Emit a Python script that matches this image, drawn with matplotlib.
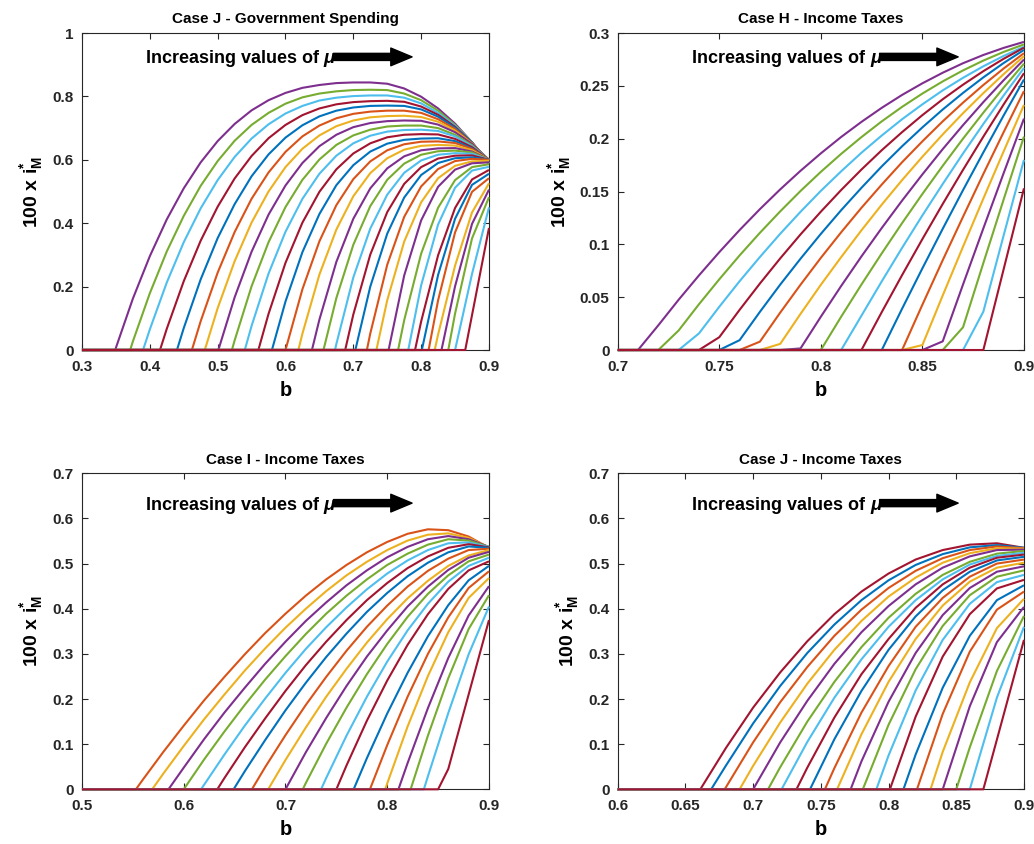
import matplotlib.pyplot as plt
import numpy as np

plt.rcParams['font.family'] = 'Liberation Sans'
plt.rcParams['font.weight'] = 'bold'
plt.rcParams['mathtext.fontset'] = 'custom'
plt.rcParams['mathtext.rm'] = 'Liberation Sans:bold'
plt.rcParams['mathtext.bf'] = 'Liberation Sans:bold'
plt.rcParams['mathtext.it'] = 'Liberation Sans:bold:italic'

# MATLAB default line colour order
COLORS = ['#0072BD', '#D95319', '#EDB120', '#7E2F8E', '#77AC30', '#4DBEEE', '#A2142F']

# ---------------- Case J - Government Spending ----------------
p1_grid = np.round(np.arange(0.300, 0.9001, 0.025), 3)
p1_onset = [0.349, 0.371, 0.390, 0.415, 0.440, 0.462, 0.481, 0.501, 0.521, 0.540,
            0.560, 0.580, 0.600, 0.619, 0.639, 0.656, 0.673, 0.688, 0.703, 0.720,
            0.734, 0.752, 0.766, 0.781, 0.791, 0.801, 0.811, 0.820, 0.830, 0.840,
            0.850, 0.865]
p1_vals = [
    [.007, .162, .296, .412, .510, .592, .659, .713, .756, .788, .811, .827, .836, .842, .844, .844, .840, .825, .799, .762, .714, .655, .585],
    [.027, .179, .311, .423, .518, .596, .660, .710, .748, .777, .797, .809, .816, .820, .821, .820, .809, .788, .755, .710, .655, .588],
    [.065, .213, .340, .447, .536, .609, .667, .712, .746, .770, .787, .796, .801, .803, .803, .796, .778, .748, .707, .654, .590],
    [.067, .217, .345, .452, .541, .612, .668, .710, .741, .762, .775, .782, .785, .786, .783, .768, .742, .704, .654, .592],
    [.069, .223, .353, .460, .548, .617, .670, .709, .737, .755, .765, .770, .771, .770, .759, .736, .701, .654, .594],
    [.091, .244, .372, .477, .560, .625, .674, .708, .731, .745, .752, .755, .755, .748, .728, .697, .652, .596],
    [.132, .280, .402, .500, .577, .635, .677, .706, .724, .734, .738, .739, .735, .720, .692, .651, .598],
    [.166, .310, .427, .519, .590, .643, .679, .703, .716, .722, .724, .723, .711, .687, .650, .600],
    [.030, .201, .340, .451, .537, .601, .647, .677, .695, .705, .708, .708, .700, .679, .646, .600],
    [.076, .241, .373, .477, .556, .613, .652, .676, .689, .694, .695, .691, .674, .643, .600],
    [.114, .275, .402, .499, .570, .620, .652, .671, .679, .681, .680, .666, .640, .600],
    [.153, .309, .429, .520, .583, .626, .651, .663, .667, .668, .659, .636, .600],
    [.192, .343, .457, .539, .595, .630, .649, .657, .658, .653, .634, .600],
    [.052, .238, .380, .485, .558, .605, .632, .644, .647, .645, .630, .600],
    [.096, .278, .414, .510, .573, .611, .630, .636, .637, .626, .600],
    [.164, .332, .454, .537, .588, .616, .627, .629, .623, .600],
    [.019, .229, .383, .490, .559, .598, .616, .621, .619, .600],
    [.112, .301, .435, .524, .577, .604, .613, .614, .600],
    [.200, .367, .481, .552, .590, .605, .608, .600],
    [.052, .269, .420, .516, .571, .596, .603, .600],
    [.157, .342, .466, .542, .581, .595, .597],
    [.235, .409, .515, .569, .589, .592],
    [.094, .304, .449, .536, .577, .586],
    [.204, .396, .512, .566, .578],
    [.090, .299, .448, .538, .568],
    [.237, .414, .521, .556],
    [.157, .371, .499, .542],
    [.049, .266, .434, .526],
    [.201, .398, .506],
    [.115, .352, .482],
    [.240, .450],
    [.110, .385],
]

# ---------------- Case H - Income Taxes ----------------
p2_grid = np.round(np.arange(0.70, 0.9001, 0.01), 2)
p2_vals = [
    [.0234, .0476, .0706, .0926, .1135, .1333, .1520, .1696, .1861, .2016, .2159, .2292, .2414, .2524, .2624, .2714, .2792, .2859, .2916],
    [.0185, .0433, .0669, .0895, .1109, .1312, .1505, .1686, .1856, .2015, .2164, .2301, .2427, .2542, .2646, .2739, .2821, .2892],
    [.0157, .0409, .0651, .0880, .1100, .1308, .1506, .1691, .1867, .2030, .2184, .2325, .2457, .2576, .2685, .2783, .2870],
    [.0121, .0380, .0629, .0867, .1094, .1309, .1514, .1708, .1891, .2062, .2223, .2373, .2511, .2639, .2756, .2861],
    [.0093, .0361, .0619, .0864, .1099, .1323, .1535, .1738, .1928, .2107, .2276, .2433, .2580, .2716, .2840],
    [.0079, .0354, .0618, .0872, .1114, .1346, .1566, .1777, .1975, .2164, .2341, .2508, .2664, .2809],
    [.0058, .0342, .0617, .0879, .1133, .1376, .1608, .1829, .2040, .2241, .2431, .2611, .2781],
    [.0015, .0315, .0606, .0886, .1155, .1414, .1662, .1901, .2128, .2346, .2553, .2749],
    [.0315, .0620, .0915, .1201, .1477, .1743, .2000, .2246, .2483, .2710],
    [.0325, .0650, .0967, .1274, .1571, .1860, .2139, .2409, .2669],
    [.0359, .0709, .1050, .1382, .1705, .2019, .2324, .2620],
    [.0391, .0773, .1147, .1513, .1870, .2220, .2560],
    [.0429, .0850, .1261, .1666, .2062, .2450],
    [.0047, .0516, .0978, .1433, .1880, .2320],
    [.0082, .0620, .1151, .1674, .2190],
    [.0215, .0823, .1425, .2020],
    [.0363, .1085, .1800],
    [.0765, .1530],
]

# ---------------- Case I - Income Taxes ----------------
p3_grid = np.round(np.arange(0.50, 0.9001, 0.02), 2)
p3_onset = [0.553, 0.569, 0.585, 0.600, 0.617, 0.633, 0.649, 0.667, 0.683, 0.700,
            0.717, 0.735, 0.750, 0.767, 0.783, 0.798, 0.811, 0.823, 0.836, 0.850]
p3_vals = [
    [.022, .083, .141, .197, .249, .299, .346, .389, .429, .465, .497, .525, .548, .566, .576, .574, .560, .535],
    [.035, .096, .155, .210, .263, .312, .358, .400, .439, .474, .504, .530, .551, .564, .567, .557, .536],
    [.048, .111, .170, .225, .278, .327, .373, .414, .452, .485, .514, .537, .554, .561, .554, .537],
    [.066, .128, .187, .243, .295, .344, .389, .429, .465, .497, .522, .542, .554, .551, .537],
    [.010, .077, .141, .201, .258, .311, .359, .403, .443, .478, .507, .530, .545, .547, .537],
    [.025, .093, .157, .218, .275, .327, .375, .419, .457, .490, .516, .535, .543, .536],
    [.040, .109, .175, .236, .293, .345, .393, .435, .472, .502, .525, .538, .535],
    [.049, .120, .187, .249, .307, .360, .407, .449, .484, .511, .530, .533],
    [.065, .137, .205, .267, .325, .377, .423, .462, .495, .518, .530],
    [.082, .158, .229, .294, .352, .405, .449, .486, .513, .526],
    [.014, .101, .181, .255, .322, .382, .433, .474, .505, .520],
    [.025, .119, .205, .283, .352, .411, .460, .495, .513],
    [.053, .152, .241, .320, .388, .444, .485, .505],
    [.069, .168, .258, .339, .408, .463, .495],
    [.098, .205, .300, .381, .446, .483],
    [.013, .139, .251, .348, .424, .468],
    [.058, .180, .291, .385, .450],
    [.119, .246, .355, .430],
    [.029, .169, .299, .405],
    [.045, .210, .375],
]

# ---------------- Case J - Income Taxes ----------------
p4_grid = np.round(np.arange(0.60, 0.9001, 0.02), 2)
p4_onset = [0.661, 0.669, 0.679, 0.690, 0.700, 0.711, 0.721, 0.732, 0.742, 0.753, 0.762,
            0.772, 0.781, 0.791, 0.801, 0.811, 0.821, 0.831, 0.840, 0.850, 0.860, 0.870]
p4_vals = [
    [.092, .181, .259, .328, .388, .438, .478, .509, .530, .542, .545, .535],
    [.053, .146, .229, .302, .365, .419, .463, .497, .521, .536, .541, .535],
    [.005, .104, .193, .271, .340, .398, .446, .484, .512, .530, .538, .534],
    [.052, .148, .234, .309, .373, .427, .469, .502, .523, .534, .533],
    [.104, .196, .278, .348, .406, .454, .491, .516, .530, .531],
    [.049, .150, .238, .315, .380, .433, .475, .504, .522, .528],
    [.105, .203, .288, .360, .419, .465, .498, .517, .524],
    [.048, .159, .255, .333, .402, .454, .491, .513, .520],
    [.111, .218, .309, .383, .441, .482, .507, .515],
    [.047, .170, .273, .360, .424, .471, .500, .509],
    [.122, .238, .333, .407, .460, .491, .502],
    [.062, .194, .302, .386, .446, .482, .494],
    [.143, .266, .362, .430, .471, .485],
    [.075, .219, .331, .411, .459, .475],
    [.161, .294, .388, .445, .464],
    [.077, .225, .340, .419, .452],
    [.167, .305, .398, .438],
    [.083, .237, .357, .422],
    [.184, .326, .404],
    [.093, .262, .384],
    [.203, .360],
    [.110, .331],
]


def draw_panel(ax, grid, onsets, vals, first_color, xlim, ylim, xticks, yticks,
               title, note):
    for k, v in enumerate(vals):
        tail = list(grid[-len(v):])
        if onsets is None:
            start = grid[-len(v) - 1]
        else:
            start = onsets[k]
        xs = [xlim[0], start] + tail
        ys = [0.0, 0.0] + list(v)
        ax.plot(xs, ys, color=COLORS[(first_color + k) % 7], lw=1.5,
                solid_capstyle='butt', solid_joinstyle='round',
                clip_on=False, zorder=3)
    ax.set_xlim(xlim)
    ax.set_ylim(ylim)
    ax.set_xticks(xticks)
    ax.set_yticks(yticks)
    ax.set_xticklabels(['%g' % t for t in xticks])
    ax.set_yticklabels(['%g' % t for t in yticks])
    ax.tick_params(direction='in', top=True, right=True, length=4, width=0.8,
                   labelsize=11, colors='#262626')
    ax.tick_params(axis='x', pad=7)
    ax.tick_params(axis='y', pad=6)
    for sp in ax.spines.values():
        sp.set_color('#262626')
        sp.set_linewidth(0.8)
    ax.set_title(title, fontsize=11, fontweight='bold', pad=7)
    ax.set_xlabel('b', fontsize=14.5, fontweight='bold', labelpad=5)
    ax.set_ylabel(r'100 x $\mathrm{i}^{\mathrm{*}}_{\mathrm{M}}$', fontsize=14,
                  fontweight='bold', labelpad=5)

    # "Increasing values of mu" note with arrow
    t1 = ax.text(note[0], note[1], 'Increasing values of ', transform=ax.transAxes,
                 fontsize=13, fontweight='bold', va='baseline', ha='left')
    mu = ax.annotate('\u03bc', xy=(1.0, 0.0), xycoords=t1, fontsize=13.5,
                     fontweight='bold', fontstyle='italic', va='bottom', ha='left')
    ax.annotate('', xy=(note[2], 0.62), xycoords=('axes fraction', mu),
                xytext=(0.85, 0.62), textcoords=mu,
                arrowprops=dict(arrowstyle='simple,head_length=0.9,head_width=0.75,tail_width=0.3',
                                color='black', mutation_scale=17, shrinkA=0, shrinkB=0))


fig = plt.figure(figsize=(10.34, 8.44), dpi=100)
ax1 = fig.add_axes([0.0793, 0.5853, 0.3936, 0.3756])
ax2 = fig.add_axes([0.5974, 0.5853, 0.3929, 0.3756])
ax3 = fig.add_axes([0.0793, 0.0648, 0.3936, 0.3744])
ax4 = fig.add_axes([0.5974, 0.0648, 0.3929, 0.3744])

draw_panel(ax1, p1_grid, p1_onset, p1_vals, 3, (0.3, 0.9), (0, 1),
           [0.3, 0.4, 0.5, 0.6, 0.7, 0.8, 0.9], [0, 0.2, 0.4, 0.6, 0.8, 1],
           'Case J - Government Spending', (0.157, 0.904, 0.811))
draw_panel(ax2, p2_grid, None, p2_vals, 3, (0.7, 0.9), (0, 0.3),
           [0.7, 0.75, 0.8, 0.85, 0.9], [0, 0.05, 0.1, 0.15, 0.2, 0.25, 0.3],
           'Case H - Income Taxes', (0.183, 0.904, 0.838))
draw_panel(ax3, p3_grid, p3_onset, p3_vals, 1, (0.5, 0.9), (0, 0.7),
           [0.5, 0.6, 0.7, 0.8, 0.9], [0, 0.1, 0.2, 0.3, 0.4, 0.5, 0.6, 0.7],
           'Case I - Income Taxes', (0.157, 0.885, 0.811))
draw_panel(ax4, p4_grid, p4_onset, p4_vals, 6, (0.6, 0.9), (0, 0.7),
           [0.6, 0.65, 0.7, 0.75, 0.8, 0.85, 0.9], [0, 0.1, 0.2, 0.3, 0.4, 0.5, 0.6, 0.7],
           'Case J - Income Taxes', (0.183, 0.885, 0.838))

fig.savefig('out.png', dpi=100, facecolor='white')
